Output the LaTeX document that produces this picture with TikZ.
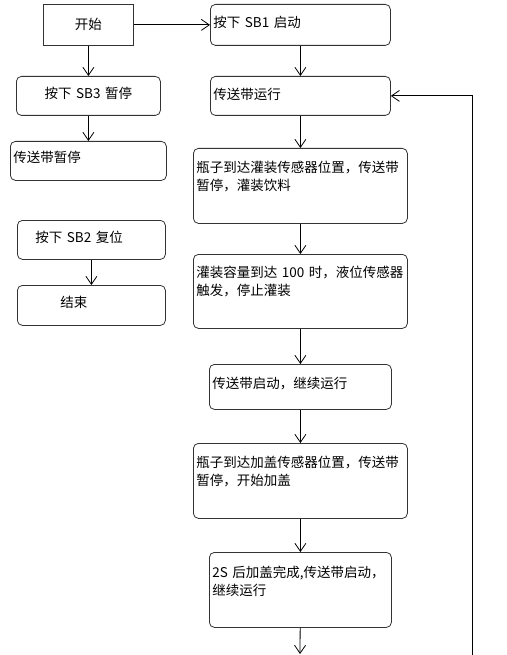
\documentclass[tikz,border=0pt]{standalone}
\usepackage{fontspec}
\newfontfamily\cjk{Noto Sans CJK SC}
\usetikzlibrary{arrows.meta}

\begin{document}
\begin{tikzpicture}[x=1pt,y=-1pt,
  box/.style={draw=black!80,line width=0.8pt,rounded corners=5pt,anchor=north west,
    inner xsep=3pt,inner ysep=0pt,align=left,font=\cjk\fontsize{13.5}{18.5}\selectfont},
  flow/.style={line width=0.8pt,-{Straight Barb[length=8pt,width=11pt]}}]
  \useasboundingbox (0,0) rectangle (506,655);
  % left column
  \node[box,sharp corners,align=center,text width=84pt,text height=25pt,text depth=16pt] (start) at (43,4) {开始};
  \node[box,align=center,text width=138pt,text height=22pt,text depth=17pt] (sb3) at (16,76) {按下 SB3 暂停};
  \node[box,text width=150pt,text height=21pt,text depth=18pt] (halt) at (10,141) {传送带暂停};
  \node[box,text width=142pt,text height=22pt,text depth=17pt] (sb2) at (17,220) {\hspace*{15pt}按下 SB2 复位};
  \node[box,text width=142pt,text height=22pt,text depth=18pt] (stop) at (17,285) {\hspace*{40pt}结束};
  % right column
  \node[box,text width=174pt,text height=23pt,text depth=18pt] (sb1) at (210,4) {按下 SB1 启动};
  \node[box,text width=174pt,text height=23pt,text depth=16pt] (run) at (210,76) {传送带运行};
  \node[box,text width=208pt,text height=24pt,text depth=51pt] (fill) at (193,148) {瓶子到达灌装传感器位置，传送带\\暂停，灌装饮料};
  \node[box,text width=208pt,text height=23pt,text depth=51pt] (full) at (193,254) {灌装容量到达 100 时，液位传感器\\触发，停止灌装};
  \node[box,text width=176pt,text height=24pt,text depth=21pt] (restart) at (209,364) {传送带启动，继续运行};
  \node[box,text width=208pt,text height=24pt,text depth=51pt] (cap) at (193,443) {瓶子到达加盖传感器位置，传送带\\暂停，开始加盖};
  \node[box,text width=176pt,text height=25pt,text depth=50pt] (done) at (209,552) {\mbox{2S 后加盖完成,传送带启动，}\\继续运行};
  \coordinate (bot) at (300,654);
  \coordinate (loop) at (472,656);
  % connectors
  \draw[flow] (start) -- (sb1);
  \draw[flow] (start) -- (sb3);
  \draw[flow] (sb3) -- (halt);
  \draw[flow] (sb2) -- (stop);
  \draw[flow] (sb1) -- (run);
  \draw[flow] (run) -- (fill);
  \draw[flow] (fill) -- (full);
  \draw[flow] (full) -- (restart);
  \draw[flow] (restart) -- (cap);
  \draw[flow] (cap) -- (done);
  \draw[flow] (done) -- (bot);
  \draw[flow] (loop) |- (run);
\end{tikzpicture}
\end{document}
